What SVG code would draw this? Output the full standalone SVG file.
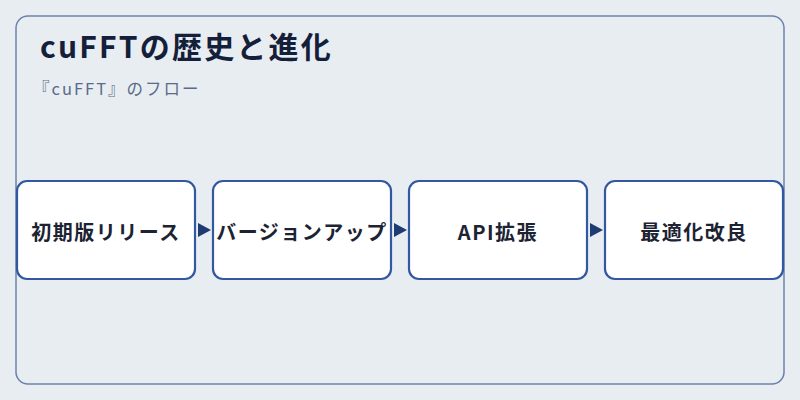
<svg xmlns="http://www.w3.org/2000/svg" width="800" height="400" viewBox="0 0 800 400">
<defs>
<style>
.node rect{fill:#ffffff;stroke:#3458a0;stroke-width:2.2}
.node text{font-family:"Noto Sans CJK JP","Noto Sans",sans-serif;font-weight:bold;font-size:20px;fill:#1c2333;text-anchor:middle;dominant-baseline:central;letter-spacing:1.5px}
.edge{fill:#1f3b73}
</style>
</defs>
<rect width="800" height="400" fill="#e8edf2"/>
<rect x="16" y="16" width="768" height="368" rx="12" fill="#e8edf2" stroke="#6a82ab" stroke-width="1.5"/>
<text x="40" y="58" font-family="'Noto Sans CJK JP','Noto Sans',sans-serif" font-weight="bold" font-size="30" fill="#14203a" letter-spacing="2.2">cuFFTの歴史と進化</text>
<text x="33" y="95" font-family="'Noto Sans CJK JP','Noto Sans',sans-serif" font-size="16.5" fill="#5a6a88" letter-spacing="2">『cuFFT』のフロー</text>
<g id="connectors">
<polygon class="edge" points="198,223 211,230 198,237"/>
<polygon class="edge" points="394,223 407,230 394,237"/>
<polygon class="edge" points="590,223 603,230 590,237"/>
</g>
<g id="n1" class="node"><rect x="17" y="181" width="178" height="98" rx="10"/><text x="106" y="231">初期版リリース</text></g>
<g id="n2" class="node"><rect x="213" y="181" width="178" height="98" rx="10"/><text x="302" y="231">バージョンアップ</text></g>
<g id="n3" class="node"><rect x="409" y="181" width="178" height="98" rx="10"/><text x="498" y="231">API拡張</text></g>
<g id="n4" class="node"><rect x="605" y="181" width="178" height="98" rx="10"/><text x="694" y="231">最適化改良</text></g>
</svg>
